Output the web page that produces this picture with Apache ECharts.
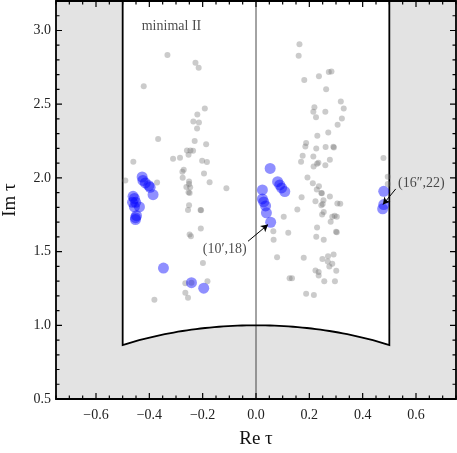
<!DOCTYPE html>
<html><head><meta charset="utf-8">
<script src="https://cdn.jsdelivr.net/npm/echarts@6/dist/echarts.min.js"></script>
<style>html,body{margin:0;padding:0;background:#fff}#c{width:457px;height:453px}</style>
</head><body><div id="c"></div>
<script>
// ---- data ----
const xMajorTicks = [-0.6, -0.4, -0.2, 0.0, 0.2, 0.4, 0.6];
const xMinorTicks = [-0.75,-0.7,-0.65,-0.55,-0.5,-0.45,-0.35,-0.3,-0.25,-0.15,-0.1,-0.05,0.05,0.1,0.15,0.25,0.3,0.35,0.45,0.5,0.55,0.65,0.7,0.75];
const yMajorTicks = [0.5, 1.0, 1.5, 2.0, 2.5, 3.0];
const yMinorTicks = [0.6,0.7,0.8,0.9,1.1,1.2,1.3,1.4,1.6,1.7,1.8,1.9,2.1,2.2,2.3,2.4,2.6,2.7,2.8,2.9,3.1];
const grayX = [-0.332,-0.227,-0.215,-0.421,-0.192,-0.220,-0.214,-0.235,-0.221,-0.367,-0.230,-0.187,-0.259,-0.246,-0.236,-0.253,-0.285,-0.311,-0.460,-0.202,-0.184,-0.271,-0.276,-0.195,-0.275,-0.371,-0.251,-0.251,-0.174,-0.490,-0.111,-0.261,-0.247,-0.253,-0.249,-0.251,-0.255,-0.208,-0.206,-0.207,-0.249,-0.244,-0.199,-0.265,-0.242,-0.182,-0.265,-0.255,-0.381,
 0.163,0.160,0.181,0.236,0.273,0.283,0.263,0.318,0.329,0.219,0.215,0.225,0.260,0.322,0.306,0.230,0.271,0.188,0.185,0.226,0.290,0.292,0.261,0.175,0.169,0.215,0.234,0.229,0.216,0.277,0.260,0.193,0.213,0.236,0.245,0.247,0.228,0.171,0.223,0.253,0.250,0.277,0.155,0.254,0.305,0.316,0.245,0.248,0.286,0.295,0.303,0.104,0.229,0.478,0.494,0.494,0.065,0.066,0.079,0.121,0.179,0.126,0.135,0.188,0.217,0.226,0.254,0.280,0.303,0.300,0.249,0.270,0.291,0.269,0.286,0.275,0.223,0.235,0.235,0.301,0.256,0.296];
const grayY = [2.834,2.781,2.748,2.622,2.470,2.430,2.376,2.382,2.335,2.263,2.250,2.229,2.186,2.186,2.184,2.157,2.137,2.130,2.110,2.116,2.108,2.055,2.042,2.030,2.001,1.968,1.976,1.959,1.970,1.983,1.929,1.938,1.936,1.902,1.898,1.814,1.783,1.783,1.780,1.656,1.616,1.604,1.422,1.286,1.289,1.298,1.221,1.187,1.174,
 2.906,2.829,2.664,2.689,2.719,2.721,2.601,2.518,2.470,2.480,2.448,2.412,2.448,2.403,2.360,2.286,2.308,2.236,2.213,2.200,2.211,2.206,2.209,2.150,2.110,2.145,2.103,2.096,2.078,2.123,2.085,2.003,1.963,1.943,1.898,1.895,1.922,1.868,1.841,1.848,1.823,1.873,1.785,1.769,1.827,1.825,1.814,1.751,1.737,1.744,1.737,1.737,1.663,2.135,2.008,1.959,1.638,1.580,1.462,1.627,1.458,1.320,1.320,1.214,1.205,1.600,1.580,1.702,1.631,1.634,1.449,1.469,1.480,1.433,1.417,1.399,1.372,1.361,1.338,1.370,1.298,1.298];
const blueX = [-0.427,-0.424,-0.415,-0.402,-0.397,-0.386,-0.461,-0.456,-0.463,-0.451,-0.456,-0.437,-0.448,-0.452,-0.452,-0.347,-0.242,-0.196,
 0.053,0.024,0.024,0.029,0.036,0.039,0.055,0.081,0.089,0.096,0.108,0.479,0.479,0.475];
const blueY = [2.006,1.983,1.966,1.947,1.936,1.886,1.875,1.861,1.834,1.834,1.803,1.803,1.744,1.717,1.730,1.388,1.289,1.252,
 2.064,1.918,1.857,1.837,1.810,1.763,1.699,1.974,1.952,1.932,1.907,1.909,1.819,1.790];
const annoText = ['(10\u2032,18)', '(16\u2033,22)'];
const annoPos = [[-0.117, 1.514], [0.620, 1.966]];
const arrowFrom = [[-0.030, 1.570], [0.524, 1.925]];
const arrowTo = [[0.045, 1.683], [0.476, 1.819]];
const panelTitle = 'minimal II';
const panelTitlePos = [-0.317, 3.03];

// ---- chart ----
const serif = 'Liberation Serif, DejaVu Serif, serif';
const X0 = -0.75, X1 = 0.75, Y0 = 0.5, Y1 = 3.2;
const fmt = v => {
  const r = Math.round(v * 10) / 10;
  return r.toFixed(1).replace('-', '\u2212');
};

const chart = echarts.init(document.getElementById('c'), null, { renderer: 'canvas' });
const gray = grayX.map((x, i) => [x, grayY[i]]);
const blue = blueX.map((x, i) => [x, blueY[i]]);

function tickPath(api) {
  const bl = api.coord([X0, Y0]), tr = api.coord([X1, Y1]);
  let d = '';
  const seg = (x1, y1, x2, y2) => { d += 'M' + x1 + ' ' + y1 + 'L' + x2 + ' ' + y2; };
  xMajorTicks.forEach(v => { const px = api.coord([v, Y0])[0];
    seg(px, bl[1], px, bl[1] - 6); seg(px, tr[1], px, tr[1] + 6); });
  xMinorTicks.forEach(v => { const px = api.coord([v, Y0])[0];
    seg(px, bl[1], px, bl[1] - 3.5); seg(px, tr[1], px, tr[1] + 3.5); });
  yMajorTicks.forEach(v => { const py = api.coord([X0, v])[1];
    seg(bl[0], py, bl[0] + 6, py); seg(tr[0], py, tr[0] - 6, py); });
  yMinorTicks.forEach(v => { const py = api.coord([X0, v])[1];
    seg(bl[0], py, bl[0] + 3.5, py); seg(tr[0], py, tr[0] - 3.5, py); });
  return d;
}

chart.setOption({
  animation: false,
  grid: { left: 56, right: 1, top: 1, bottom: 54, show: false, containLabel: false, outerBoundsMode: 'none' },
  xAxis: {
    type: 'value', min: X0, max: X1, interval: 0.05,
    axisLine: { show: false }, axisTick: { show: false }, splitLine: { show: false },
    axisLabel: { show: true, customValues: xMajorTicks, formatter: fmt, margin: 9,
                 fontFamily: serif, fontSize: 14, color: '#222' },
    name: 'Re \u03c4', nameLocation: 'middle', nameGap: 31,
    nameTextStyle: { fontFamily: serif, fontSize: 19, color: '#111' }
  },
  yAxis: {
    type: 'value', min: Y0, max: Y1, interval: 0.1,
    axisLine: { show: false }, axisTick: { show: false }, splitLine: { show: false },
    axisLabel: { show: true, customValues: yMajorTicks, formatter: fmt, margin: 5,
                 fontFamily: serif, fontSize: 14, color: '#222' },
    name: 'Im \u03c4', nameLocation: 'middle', nameGap: 36, nameRotate: 90,
    nameTextStyle: { fontFamily: serif, fontSize: 19, color: '#111' }
  },
  series: [
    {
      type: 'custom', z: 1, silent: true, clip: false,
      data: [[0, 0]],
      renderItem: function (params, api) {
        const arc = [];
        const N = 60;
        for (let k = 0; k <= N; k++) {
          const t = Math.PI * (2 / 3 - (k / N) / 3);
          arc.push(api.coord([Math.cos(t), Math.sin(t)]));
        }
        const boundary = [api.coord([-0.5, Y1])].concat(arc, [api.coord([0.5, Y1])]);
        const b = api.coord([0, Y0]), t2 = api.coord([0, Y1]);
        const bl = api.coord([X0, Y0]), tr = api.coord([X1, Y1]);
        return {
          type: 'group',
          children: [
            { type: 'rect', shape: { x: bl[0], y: tr[1], width: tr[0] - bl[0], height: bl[1] - tr[1] },
              style: { fill: '#e3e3e3', stroke: null } },
            { type: 'polygon', shape: { points: boundary }, style: { fill: '#fff', stroke: null } },
            { type: 'line', shape: { x1: b[0], y1: b[1], x2: t2[0], y2: t2[1] },
              style: { stroke: '#333', lineWidth: 0.9 } },
            { type: 'polyline', shape: { points: boundary }, style: { fill: null, stroke: '#000', lineWidth: 1.8 } },
            { type: 'path', shape: { pathData: tickPath(api) }, style: { fill: null, stroke: '#000', lineWidth: 1.2 } },
            { type: 'rect', shape: { x: bl[0], y: tr[1], width: tr[0] - bl[0], height: bl[1] - tr[1] },
              style: { fill: null, stroke: '#000', lineWidth: 1.8 } }
          ]
        };
      }
    },
    {
      type: 'scatter', z: 3, data: gray, symbolSize: 6,
      itemStyle: { color: 'rgba(110,110,110,0.45)' }
    },
    {
      type: 'scatter', z: 4, data: blue, symbolSize: 11,
      itemStyle: { color: 'rgba(0,0,255,0.55)' },
      markLine: {
        silent: true, animation: false, symbol: ['none', 'arrow'], symbolSize: [6, 7],
        lineStyle: { color: '#000', width: 1, type: 'solid' }, label: { show: false },
        data: arrowFrom.map((p, i) => [{ coord: p }, { coord: arrowTo[i] }])
      }
    },
    {
      type: 'scatter', z: 5, silent: true, symbolSize: 0,
      data: annoPos.map((p, i) => [p[0], p[1], annoText[i]]).concat([[panelTitlePos[0], panelTitlePos[1], panelTitle]]),
      label: { show: true, position: 'inside', formatter: p => p.value[2], fontFamily: serif, fontSize: 14, color: '#222' }
    }
  ]
});
</script></body></html>
